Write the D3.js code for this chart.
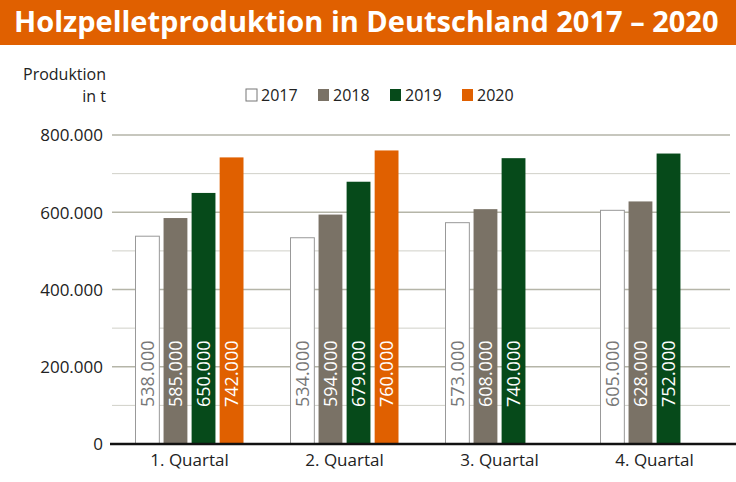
<!DOCTYPE html>
<html lang="de">
<head>
<meta charset="UTF-8" />
<style>
  body { margin: 0; background: #fff; }
  text { font-family: "Open Sans", sans-serif; }
</style>
</head>
<body>
<svg width="736" height="482"></svg>
<script src="https://cdnjs.cloudflare.com/ajax/libs/d3/7.8.5/d3.min.js"></script>
<script>
const quarters = ["1. Quartal", "2. Quartal", "3. Quartal", "4. Quartal"];
const years = ["2017", "2018", "2019", "2020"];
const values = {
  "2017": [538000, 534000, 573000, 605000],
  "2018": [585000, 594000, 608000, 628000],
  "2019": [650000, 679000, 740000, 752000],
  "2020": [742000, 760000, null, null]
};
const colors = { "2017": "#ffffff", "2018": "#7a7266", "2019": "#064a1a", "2020": "#e06000" };
const yTicks = [0, 200000, 400000, 600000, 800000];

const svg = d3.select("svg");
const fmt = d3.format(",");
const de = v => fmt(v).replace(/,/g, ".");

// title bar
svg.append("rect").attr("width", 736).attr("height", 45).attr("fill", "#e06000");
svg.append("text").attr("x", 14).attr("y", 32)
  .attr("fill", "#fff").attr("font-size", 29).attr("font-weight", "bold")
  .attr("font-family", "DejaVu Sans Condensed, sans-serif")
  .text("Holzpelletproduktion in Deutschland 2017 – 2020");

const x0 = d3.scaleBand().domain(quarters).range([112, 732]);
const x1 = d3.scaleBand().domain(years).range([0, 108]).paddingInner(0.15);
const y = d3.scaleLinear().domain([0, 800000]).range([444, 135]);

// grid
const g = svg.append("g");
d3.range(100000, 900000, 100000).forEach(v => {
  g.append("line").attr("x1", 112).attr("x2", 730)
    .attr("y1", y(v)).attr("y2", y(v))
    .attr("stroke", v % 200000 === 0 ? "#b5b5a8" : "#d0d0c8")
    .attr("stroke-width", v % 200000 === 0 ? 1.6 : 1);
});

const yAxis = svg.append("g").attr("transform", "translate(106,0)")
  .call(d3.axisLeft(y).tickValues(yTicks).tickSize(0).tickFormat(de));
yAxis.select(".domain").remove();
yAxis.selectAll("text").attr("font-size", 17).attr("fill", "#222").attr("dy", "0.35em");

svg.append("text").attr("x", 106).attr("y", 80).attr("text-anchor", "end")
  .attr("font-size", 16).attr("fill", "#222").text("Produktion");
svg.append("text").attr("x", 106).attr("y", 102).attr("text-anchor", "end")
  .attr("font-size", 16).attr("fill", "#222").text("in t");

// legend
years.forEach((yr, i) => {
  const lx = 246 + i * 72;
  svg.append("rect").attr("x", lx).attr("y", 89).attr("width", 11).attr("height", 12)
    .attr("fill", colors[yr]).attr("stroke", yr === "2017" ? "#777" : "none");
  svg.append("text").attr("x", lx + 15).attr("y", 101)
    .attr("font-size", 16).attr("fill", "#222").text(yr);
});

// bars
quarters.forEach((q, qi) => {
  const off = x0(q) + (x0.bandwidth() - 108) / 2;
  years.forEach(yr => {
    const v = values[yr][qi];
    if (v == null) return;
    const bx = off + x1(yr), bw = x1.bandwidth();
    svg.append("rect").attr("x", bx).attr("y", y(v))
      .attr("width", bw).attr("height", y(0) - y(v))
      .attr("fill", colors[yr])
      .attr("stroke", yr === "2017" ? "#999" : "none");
    svg.append("text")
      .attr("transform", `translate(${bx + bw / 2 + 6.5},${y(0) - 37}) rotate(-90)`)
      .attr("font-size", 18).attr("fill", yr === "2017" ? "#777" : "#fff")
      .text(de(v));
  });
});

// baseline + x labels
svg.append("line").attr("x1", 110).attr("x2", 736).attr("y1", y(0)).attr("y2", y(0))
  .attr("stroke", "#111").attr("stroke-width", 2.5);
const xAxis = svg.append("g").attr("transform", `translate(0,${y(0)})`)
  .call(d3.axisBottom(x0).tickSize(0));
xAxis.select(".domain").remove();
xAxis.selectAll("text").attr("font-size", 17).attr("fill", "#222").attr("dy", "1.1em");
</script>
</body>
</html>
